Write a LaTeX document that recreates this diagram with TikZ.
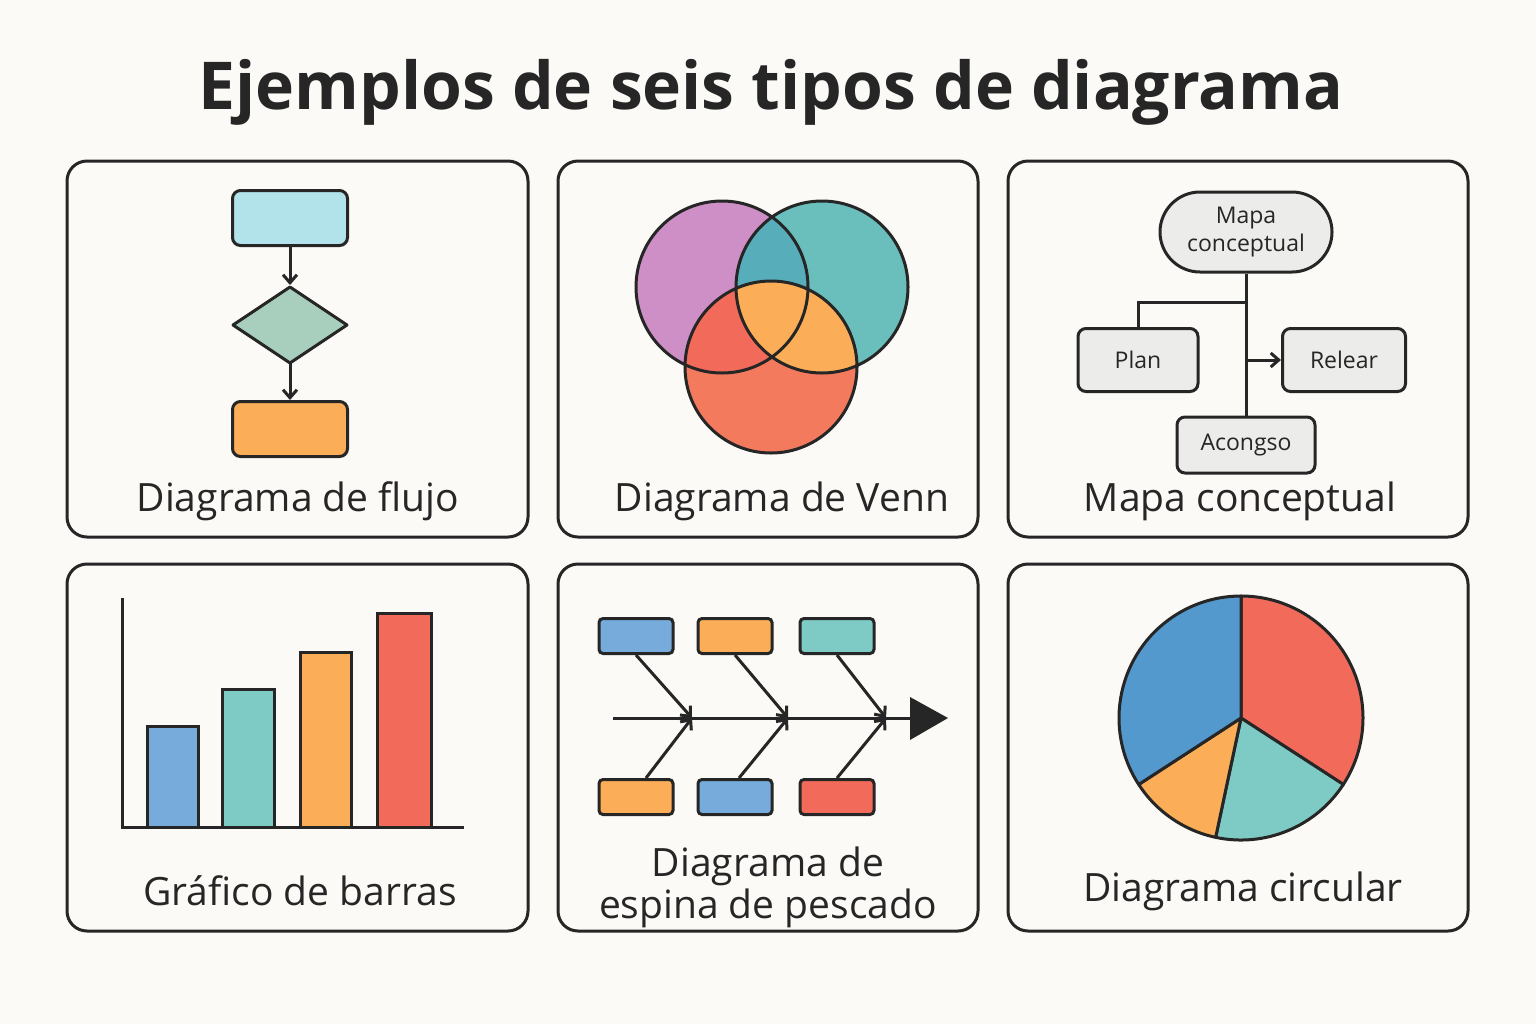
\documentclass[tikz,border=0pt]{standalone}
\usepackage{fontspec}
\setmainfont{Open Sans}
\usetikzlibrary{arrows.meta}
\definecolor{bg}{HTML}{FCFAF6}
\definecolor{ink}{HTML}{262626}
\definecolor{cyanL}{HTML}{B3E3EA}
\definecolor{greenL}{HTML}{A8CFBD}
\definecolor{orng}{HTML}{FBAD57}
\definecolor{purp}{HTML}{CE8FC6}
\definecolor{teal}{HTML}{6ABFBC}
\definecolor{tealL}{HTML}{7ECAC5}
\definecolor{tealD}{HTML}{57AEBA}
\definecolor{redd}{HTML}{F26A5A}
\definecolor{redL}{HTML}{F47A5E}
\definecolor{blu}{HTML}{76ABDB}
\definecolor{bluD}{HTML}{5499CD}
\definecolor{grayL}{HTML}{ECECEA}
\tikzset{
 ln/.style={draw=ink,line width=1.5pt},
 panel/.style={ln,rounded corners=10pt,fill=bg},
 box/.style={ln,rounded corners=4pt},
 lab/.style={font=\fontsize{19.5}{22}\selectfont,text=ink},
 small/.style={font=\fontsize{11.5}{13}\selectfont,text=ink},
 arr/.style={ln,-{Straight Barb[length=4pt,width=7pt]}},
}
\begin{document}
\begin{tikzpicture}[x=0.5pt,y=-0.5pt]
\fill[bg] (0,0) rectangle (1536,1024);
\useasboundingbox (0,0) rectangle (1536,1024);
\node[font=\fontsize{33}{36}\selectfont\bfseries,text=ink] (title) at (771,92) {Ejemplos de seis tipos de diagrama};
% panels
\draw[panel] (67,161) rectangle (528,537);
\draw[panel] (558,161) rectangle (978,537);
\draw[panel] (1008,161) rectangle (1468,537);
\draw[panel] (67,564) rectangle (528,931);
\draw[panel] (558,564) rectangle (978,931);
\draw[panel] (1008,564) rectangle (1468,931);
% flow
\node[box,fill=cyanL,minimum width=57.5pt,minimum height=27.5pt] (f1) at (290,218) {};
\draw[ln,fill=greenL,line join=round] (233,325) -- (290,287) -- (347,325) -- (290,363) -- cycle;
\coordinate (dt) at (290,287); \coordinate (db) at (290,363);
\node[box,fill=orng,minimum width=57.5pt,minimum height=27.5pt] (f3) at (290,429) {};
\draw[arr] (f1.south) -- ([yshift=1pt]dt);
\draw[arr] (db) -- (f3.north);
\node[lab] (l1) at (298,501) {Diagrama de flujo};
% venn
\fill[purp] (722,287) circle (86);
\fill[teal] (822,287) circle (86);
\fill[redL] (771,367) circle (86);
\begin{scope}\clip (722,287) circle (86); \fill[tealD] (822,287) circle (86); \fill[redd] (771,367) circle (86);\end{scope}
\begin{scope}\clip (822,287) circle (86); \fill[orng] (771,367) circle (86);\end{scope}
\draw[ln] (722,287) circle (86) (822,287) circle (86) (771,367) circle (86);
\node[lab] (l2) at (782,501) {Diagrama de Venn};
% concept map
\node[ln,fill=grayL,rounded corners=20pt,minimum width=86pt,minimum height=40pt,align=center,small] (cm) at (1246,232) {Mapa\\[1pt]conceptual};
\node[box,fill=grayL,minimum width=60pt,minimum height=31.5pt,small] (plan) at (1138,360) {Plan};
\node[box,fill=grayL,minimum width=61.5pt,minimum height=31.5pt,small] (rel) at (1344,360) {Relear};
\node[box,fill=grayL,minimum width=69pt,minimum height=28pt,small] (ac) at (1246,445) {Acongso};
\coordinate (j1) at (1246,302); \coordinate (j2) at (1246,360);
\draw[ln] (cm.south) -- (ac.north);
\draw[ln] (j1) -| (plan.north);
\draw[arr] (j2) -- (rel.west);
\node[lab] (l3) at (1240,501) {Mapa conceptual};
% bar chart
\draw[ln] (122,598) -- (122,827) -- (464,827);
\draw[ln,fill=blu] (147,827) rectangle (198,726);
\draw[ln,fill=tealL] (222,827) rectangle (274,689);
\draw[ln,fill=orng] (300,827) rectangle (351,652);
\draw[ln,fill=redd] (377,827) rectangle (431,613);
\node[lab] (l4) at (300,891) {Gráfico de barras};
% fishbone
\tikzset{fb/.style={box,rounded corners=2pt,minimum width=37pt,minimum height=17.5pt}}
\node[fb,fill=blu] (t1) at (636,636) {};
\node[fb,fill=orng] (t2) at (735,636) {};
\node[fb,fill=tealL] (t3) at (837,636) {};
\node[fb,fill=orng] (b1) at (636,797) {};
\node[fb,fill=blu] (b2) at (735,797) {};
\node[fb,fill=redd] (b3) at (837,797) {};
\coordinate (s0) at (613,718); \coordinate (s4) at (912,718);
\coordinate (p1) at (692,718); \coordinate (p2) at (788,718); \coordinate (p3) at (886,718);
\draw[ln] (s0) -- (s4);
\fill[ink] (910,697) -- (948,718) -- (910,740) -- cycle;
\draw[arr] (t1.south) -- (p1); \draw[arr] (t2.south) -- (p2); \draw[arr] (t3.south) -- (p3);
\draw[arr] ([xshift=5pt]b1.north) -- (p1); \draw[arr] ([xshift=2pt]b2.north) -- (p2); \draw[arr] (b3.north) -- (p3);
\node[lab,align=center] (l5) at (768,887) {Diagrama de\\[-1pt]espina de pescado};
% pie
\coordinate (pc) at (1241,718);
\draw[ln,fill=redd,line join=round] (pc) -- ++(-90:122) arc (-90:33:122) -- cycle;
\draw[ln,fill=tealL,line join=round] (pc) -- ++(33:122) arc (33:102:122) -- cycle;
\draw[ln,fill=orng,line join=round] (pc) -- ++(102:122) arc (102:147:122) -- cycle;
\draw[ln,fill=bluD,line join=round] (pc) -- ++(147:122) arc (147:270:122) -- cycle;
\node[lab] (l6) at (1243,891) {Diagrama circular};
\end{tikzpicture}
\end{document}
